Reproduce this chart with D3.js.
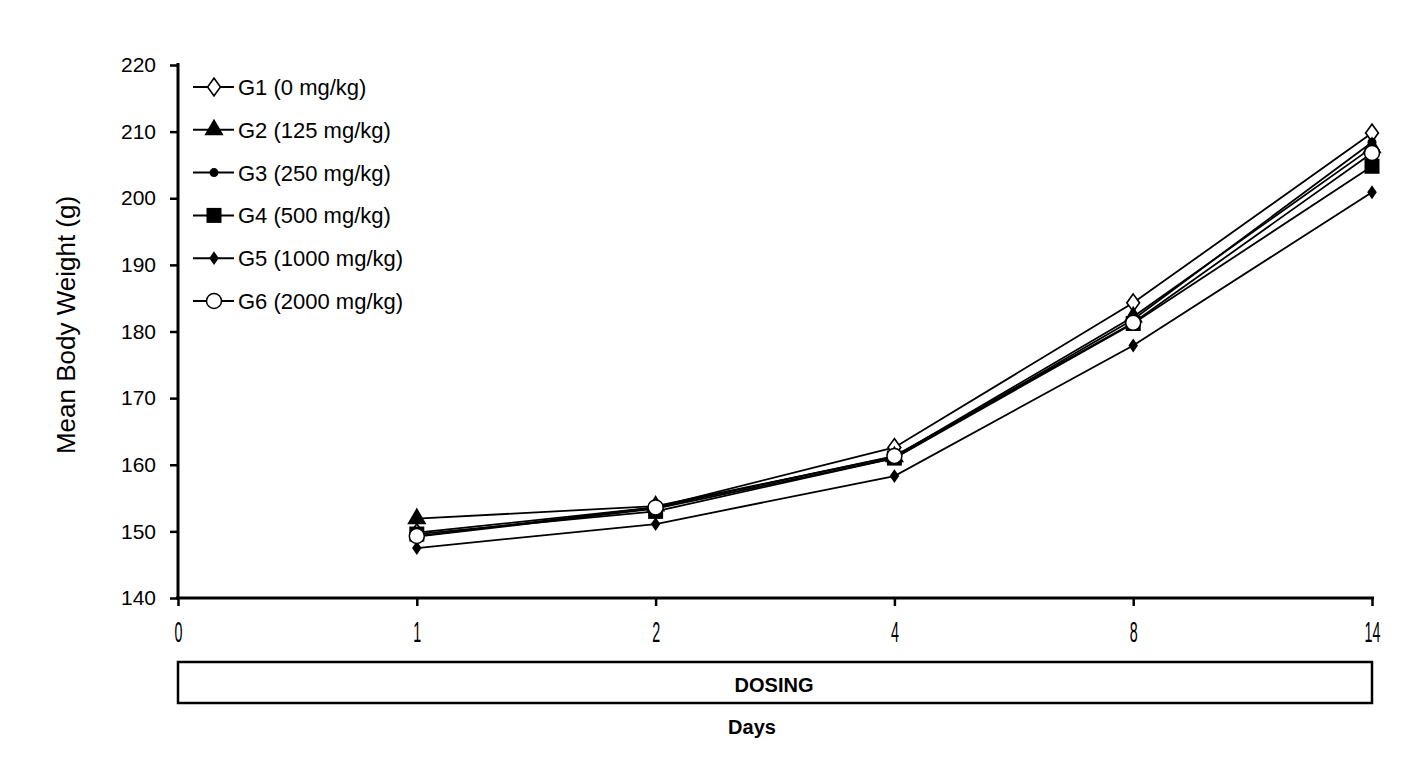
<!DOCTYPE html>
<html><head><meta charset="utf-8">
<script src="https://cdn.jsdelivr.net/npm/d3@7/dist/d3.min.js"></script>
<style>body{margin:0;background:#fff}svg{display:block}</style>
</head><body>
<svg id="c" width="1421" height="775"></svg>
<script>
const dayLabels = ["0","1","2","4","8","14"];
const dataDays = ["1","2","4","8","14"];
const seriesNames = ["G1 (0 mg/kg)","G2 (125 mg/kg)","G3 (250 mg/kg)","G4 (500 mg/kg)","G5 (1000 mg/kg)","G6 (2000 mg/kg)"];
const g1 = [149.8,153.6,162.6,184.3,209.8];
const g2 = [151.9,153.8,161.2,182.2,207.6];
const g3 = [149.2,153.4,161.0,181.8,208.4];
const g4 = [149.6,153.0,161.0,181.2,204.8];
const g5 = [147.5,151.1,158.3,177.9,200.9];
const g6 = [149.3,153.6,161.3,181.3,206.8];
const yTicks = [140,150,160,170,180,190,200,210,220];
const seriesValues = [g1,g2,g3,g4,g5,g6];
const markers = ["diamondOpen","triangle","dot","square","diamondSmall","circleOpen"];

const svg = d3.select("#c");
const x = d3.scalePoint().domain(dayLabels).range([178,1372]);
const y = d3.scaleLinear().domain([140,220]).range([598,65]);
const font = "'Liberation Sans', Arial, sans-serif";

// lines
const line = d3.line().x(d=>x(d.day)).y(d=>y(d.v));
seriesValues.forEach((vals)=>{
  const pts = vals.map((v,i)=>({day:dataDays[i],v}));
  svg.append("path").attr("d",line(pts)).attr("fill","none").attr("stroke","#000").attr("stroke-width",1.8);
});

function drawMarker(g, type, cx, cy){
  if(type==="diamondOpen"){
    g.append("path").attr("d",d3.symbol(d3.symbolDiamond,90)()).attr("transform",`translate(${cx},${cy}) scale(1.25,1)`)
     .attr("fill","#fff").attr("stroke","#000").attr("stroke-width",1.4);
  } else if(type==="triangle"){
    g.append("path").attr("d",d3.symbol(d3.symbolTriangle,160)()).attr("transform",`translate(${cx},${cy})`).attr("fill","#000");
  } else if(type==="dot"){
    g.append("circle").attr("cx",cx).attr("cy",cy).attr("r",4.5).attr("fill","#000");
  } else if(type==="square"){
    g.append("rect").attr("x",cx-7.5).attr("y",cy-7.5).attr("width",15).attr("height",15).attr("fill","#000");
  } else if(type==="diamondSmall"){
    g.append("path").attr("d",d3.symbol(d3.symbolDiamond,55)()).attr("transform",`translate(${cx},${cy}) scale(1.2,1)`).attr("fill","#000");
  } else if(type==="circleOpen"){
    g.append("circle").attr("cx",cx).attr("cy",cy).attr("r",7.5).attr("fill","#fff").attr("stroke","#000").attr("stroke-width",1.5);
  }
}
const mg = svg.append("g");
seriesValues.forEach((vals,si)=>{
  vals.forEach((v,i)=>drawMarker(mg, markers[si], x(dataDays[i]), y(v)));
});

// axes
const yAxis = svg.append("g").attr("transform","translate(178,0)")
  .call(d3.axisLeft(y).tickValues(yTicks).tickSize(8).tickPadding(14).tickFormat(d3.format("d")));
yAxis.select(".domain").attr("stroke","#000").attr("stroke-width",3).attr("d","M0,598V63");
yAxis.selectAll(".tick line").attr("stroke","#000").attr("stroke-width",2.5);
yAxis.selectAll("text").attr("font-family",font).attr("font-size",21).attr("fill","#000");

const xAxis = svg.append("g").attr("transform","translate(0,598)")
  .call(d3.axisBottom(x).tickSize(8));
xAxis.select(".domain").attr("stroke","#000").attr("stroke-width",3).attr("d","M176,0H1374");
xAxis.selectAll(".tick line").attr("stroke","#000").attr("stroke-width",2.5);
xAxis.selectAll("text").attr("font-family",font).attr("font-size",26).attr("fill","#000")
  .attr("x",0).attr("y",0).attr("dy",0)
  .attr("transform","translate(0,44) scale(0.55,1.1)");

// legend
const lg = svg.append("g");
seriesNames.forEach((name,i)=>{
  const ly = 87 + i*42.8;
  lg.append("line").attr("x1",193).attr("x2",234).attr("y1",ly).attr("y2",ly).attr("stroke","#000").attr("stroke-width",2);
  drawMarker(lg, markers[i], 214, ly);
  lg.append("text").attr("x",238).attr("y",ly).attr("dy","0.36em").attr("font-family",font).attr("font-size",22).text(name);
});

// y label
svg.append("text").attr("transform","translate(75,325) rotate(-90)").attr("text-anchor","middle")
  .attr("font-family",font).attr("font-size",26).text("Mean Body Weight (g)");

// dosing box
svg.append("rect").attr("x",x("0")).attr("y",662).attr("width",x("14")-x("0")).attr("height",41)
  .attr("fill","#fff").attr("stroke","#000").attr("stroke-width",2.5);
svg.append("text").attr("x",(x("0")+x("14"))/2-1).attr("y",685).attr("dy","0.36em").attr("text-anchor","middle")
  .attr("font-family",font).attr("font-size",20).attr("font-weight","bold").text("DOSING");
svg.append("text").attr("x",752).attr("y",727).attr("dy","0.36em").attr("text-anchor","middle")
  .attr("font-family",font).attr("font-size",20).attr("font-weight","bold").text("Days");
</script>
</body></html>
